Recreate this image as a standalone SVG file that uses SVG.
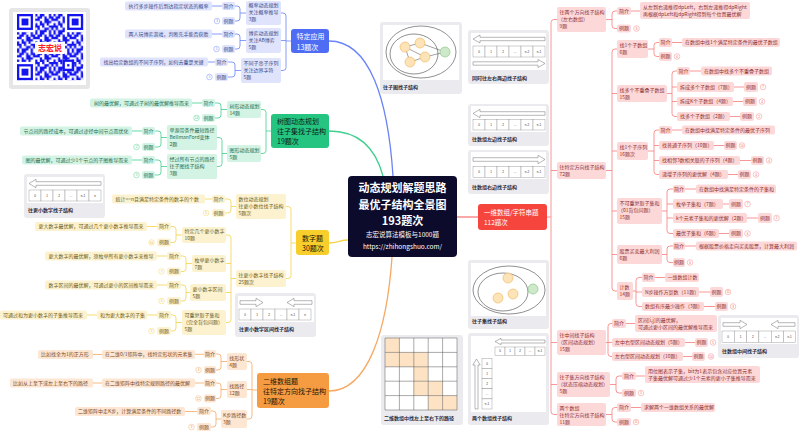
<svg xmlns="http://www.w3.org/2000/svg" width="800" height="433" viewBox="0 0 800 433">
<defs>
<style>
text{font-family:"Noto Sans CJK SC","Noto Sans","Liberation Sans",sans-serif;font-size:5px}
.c{fill:none;stroke-width:.8}
.w{stroke-width:1.3}
.l1{stroke:#6a83f6}.l2{stroke:#3fcf8e}.l3{stroke:#f5d24a}.l4{stroke:#f6a862}.l5{stroke:#f77b7b}
.b1{fill:#dfe4fc}.b2{fill:#d3f4e4}.b3{fill:#fdf2cf}.b4{fill:#fde6d2}.b5{fill:#fdd8d8}
.t1{fill:#3a4684}.t2{fill:#266a4b}.t3{fill:#6b5a17}.t4{fill:#7a491f}.t5{fill:#8e2f2f}
.m{text-anchor:middle}
.bd{fill:#fff;stroke-width:.45}
.bn{font-size:3px;text-anchor:middle;font-family:"Liberation Sans",sans-serif}
.n1{fill:#6a83f6}.n2{fill:#3fcf8e}.n3{fill:#d9ad18}.n4{fill:#f08a3a}.n5{fill:#f05a5a}
.card{fill:#ebebef}
.in{fill:#fff}
.ar{fill:#fff;stroke:#707070;stroke-width:.5}
.cell{fill:#fff;stroke:#8a8a8a;stroke-width:.4}
.ct{font-size:3px;fill:#333;text-anchor:middle;font-family:"Liberation Sans",sans-serif}
.cl{font-weight:bold;fill:#2b2b40}
.mt{font-size:7px}
.ol{fill:none;stroke:#444;stroke-width:.6}
.oc{fill:#fde3b8;stroke:#f0b455;stroke-width:.6}
.gc{fill:#cde9c9;stroke:#7cc27a;stroke-width:.6}
.qb{fill:#1414f0}
</style>
<pattern id="qr" width="8" height="8" patternUnits="userSpaceOnUse" patternTransform="translate(17,14) scale(2.28)">
<path class="qb" d="M0 0h1v1h-1z M2 0h2v1h-2z M6 0h1v1h-1z M1 1h2v1h-2z M4 1h1v1h-1z M6 1h2v1h-2z M0 2h2v1h-2z M4 2h2v1h-2z M7 2h1v1h-1z M2 3h1v1h-1z M4 3h3v1h-3z M0 4h1v1h-1z M2 4h2v1h-2z M5 4h1v1h-1z M0 5h2v1h-2z M3 5h1v1h-1z M6 5h2v1h-2z M1 6h1v1h-1z M4 6h2v1h-2z M7 6h1v1h-1z M0 7h1v1h-1z M2 7h3v1h-3z M6 7h1v1h-1z"/>
</pattern>
</defs>
<rect width="800" height="433" fill="#fff"/>

<g id="qrcode">
<rect x="9" y="8" width="81" height="81" rx="3" fill="#e6e6e6"/>
<rect x="13" y="12" width="73" height="73" fill="#fff"/>
<rect x="17" y="14" width="66.12" height="66.12" fill="url(#qr)"/>
<rect x="17" y="14" width="18.24" height="18.24" fill="#fff"/>
<rect x="64.88" y="14" width="18.24" height="18.24" fill="#fff"/>
<rect x="17" y="61.88" width="18.24" height="18.24" fill="#fff"/>
<rect class="qb" x="17" y="14" width="15.96" height="15.96"/><rect x="19.28" y="16.28" width="11.4" height="11.4" fill="#fff"/><rect class="qb" x="21.56" y="18.56" width="6.84" height="6.84"/>
<rect class="qb" x="67.16" y="14" width="15.96" height="15.96"/><rect x="69.44" y="16.28" width="11.4" height="11.4" fill="#fff"/><rect class="qb" x="71.72" y="18.56" width="6.84" height="6.84"/>
<rect class="qb" x="17" y="64.16" width="15.96" height="15.96"/><rect x="19.28" y="66.44" width="11.4" height="11.4" fill="#fff"/><rect class="qb" x="21.56" y="68.72" width="6.84" height="6.84"/>
<rect class="qb" x="62.6" y="59.6" width="11.4" height="11.4"/><rect x="64.88" y="61.88" width="6.84" height="6.84" fill="#fff"/><rect class="qb" x="67.16" y="64.16" width="2.28" height="2.28"/>
<rect x="35" y="42" width="30" height="12" rx="1" fill="#fff"/>
<text x="50" y="51.2" class="m" style="font-size:8px;font-weight:bold;fill:#ff2222">志宏说</text>
</g>

<g id="connectors">
<path class="c w l1" d="M329,41 C370,41 388,100 393,176"/>
<path class="c w l2" d="M329,131 C360,131 376,150 383,176"/>
<path class="c w l3" d="M329,243 C338,243 340,240 348,240"/>
<path class="c w l4" d="M329,391 C368,391 387,330 392,257"/>
<path class="c w l5" d="M457,217 H478"/>
<path class="c l1" d="M291,41 H286 M281,13 H283 Q286,13 286,16 V67.5 Q286,70.5 283,70.5 H281 M281,40.5 H286"/>
<path class="c l1" d="M246,13 H240 M235,6 H237 Q240,6 240,9 V18 Q240,21 237,21 H235 M212,6 H222"/>
<path class="c l1" d="M246,40.5 H240 M235,34 H237 Q240,34 240,37 V46 Q240,49 237,49 H235 M212,34 H222"/>
<path class="c l1" d="M241,70.5 H235 M228,62 H232 Q235,62 235,65 V74 Q235,77 232,77 H228 M208,62 H215"/>
<path class="c l2" d="M271,131 H266 M261,109.5 H263 Q266,109.5 266,112.5 V150.5 Q266,153.5 263,153.5 H261"/>
<path class="c l2" d="M227,109.5 H221 M215,103 H218 Q221,103 221,106 V115 Q221,118 218,118 H215 M192,103 H202"/>
<path class="c l2" d="M227,153.5 H222 M217,137.5 H219 Q222,137.5 222,140.5 V163.5 Q222,166.5 219,166.5 H217"/>
<path class="c l2" d="M167,137.5 H161 M155,131 H158 Q161,131 161,134 V144 Q161,147 158,147 H155 M132,131 H142"/>
<path class="c l2" d="M167,166.5 H161 M155,160 H158 Q161,160 161,163 V172 Q161,175 158,175 H155 M132,160 H142"/>
<path class="c l3" d="M296,243 H291 M286,206.5 H288 Q291,206.5 291,209.5 V275.5 Q291,278.5 288,278.5 H286"/>
<path class="c l3" d="M236,206.5 H231 M225,199 H228 Q231,199 231,202 V210 Q231,213 228,213 H225 M205,199 H212"/>
<path class="c l3" d="M236,278.5 H231 M226,235 H228 Q231,235 231,238 V319.5 Q231,322.5 228,322.5 H226 M226,263.5 H231 M226,292.5 H231"/>
<path class="c l3" d="M182,235 H176 M171,226.5 H173 Q176,226.5 176,229.5 V239.5 Q176,242.5 173,242.5 H171 M147,226.5 H157"/>
<path class="c l3" d="M192,263.5 H186 M181,256 H183 Q186,256 186,259 V268.5 Q186,271.5 183,271.5 H181 M157,256 H167"/>
<path class="c l3" d="M190,292.5 H186 M181,285 H183 Q186,285 186,288 V298 Q186,301 183,301 H181 M157,285 H167"/>
<path class="c l3" d="M182,322.5 H176 M171,315 H173 Q176,315 176,318 V328 Q176,331 173,331 H171 M147,315 H157 M87,315 H97"/>
<path class="c l4" d="M257,390 H252 M247,361.5 H249 Q252,361.5 252,364.5 V416 Q252,419 249,419 H247 M247,389.5 H252"/>
<path class="c l4" d="M227,361.5 H221 M216,354 H218 Q221,354 221,357 V367 Q221,370 218,370 H216 M195,354.3 H204 M93,354.5 H102"/>
<path class="c l4" d="M227,389.5 H221 M216,383 H218 Q221,383 221,386 V395.5 Q221,398.5 218,398.5 H216 M195,383 H204 M93,383 H102"/>
<path class="c l4" d="M221,419 H216 M211,411 H213 Q216,411 216,414 V424 Q216,427 213,427 H211 M185,411.5 H197"/>
<path class="c l5" d="M547,217 H551 M557,19.5 H554 Q551,19.5 551,22.5 V411.5 Q551,414.5 554,414.5 H557 M551,170.5 H557 M551,342.5 H557 M551,384.5 H557"/>
<path class="c l5" d="M606,19.5 H612 M617,11 H615 Q612,11 612,14 V25.5 Q612,28.5 615,28.5 H617 M631,11 H640"/>
<path class="c l5" d="M606,170.5 H612 M617,49 H615 Q612,49 612,52 V288 Q612,291 615,291 H617 M612,93.5 H617 M612,151 H617 M612,211 H617 M612,254.5 H617"/>
<path class="c l5" d="M648,49 H654 M659,42.5 H657 Q654,42.5 654,45.5 V53.5 Q654,56.5 657,56.5 H659 M672,42.5 H682"/>
<path class="c l5" d="M667,93.5 H672 M677,71 H675 Q672,71 672,74 V113.5 Q672,116.5 675,116.5 H677 M672,87 H677 M672,101.5 H677 M690,71 H701 M734,87 H744 M733,101.5 H743 M730,116.5 H740"/>
<path class="c l5" d="M648,151 H654 M659,130 H657 Q654,130 654,133 V171.5 Q654,174.5 657,174.5 H659 M654,145.5 H659 M654,160.5 H659 M672,130 H682 M714,145.5 H724 M740,160.5 H751 M728,174.5 H738"/>
<path class="c l5" d="M662,211 H667 M673,189 H670 Q667,189 667,192 V230.5 Q667,233.5 670,233.5 H673 M667,204 H673 M667,218 H673 M685,189 H696 M723,204 H729 M747,218 H758 M719,233.5 H729"/>
<path class="c l5" d="M662,254.5 H667 M673,246 H670 Q667,246 667,249 V259.5 Q667,262.5 670,262.5 H673 M685,246 H696"/>
<path class="c l5" d="M633,291 H636 M642,277.5 H639 Q636,277.5 636,280.5 V303.5 Q636,306.5 639,306.5 H642 M636,292 H642 M655,277.5 H665 M699,292 H710 M704,306.5 H715"/>
<path class="c l5" d="M606,342.5 H612 M612,323.5 H611 Q608,323.5 608,326.5 V353.5 Q608,356.5 611,356.5 H612 M626,323.5 H635 M685,342.5 H695 M683,356.5 H692"/>
<path class="c l5" d="M610,384.5 H616 M622,376 H619 Q616,376 616,379 V390 Q616,393 619,393 H622 M636,376 H645"/>
<path class="c l5" d="M606,414.5 H612 M617,407.5 H615 Q612,407.5 612,410.5 V419 Q612,422 615,422 H617 M631,407.5 H641"/>
</g>

<g id="center">
<rect x="348" y="176" width="109" height="81" rx="4" fill="#0d0b2c"/>
<text x="402.5" y="192" class="m" style="font-size:11px;font-weight:bold;fill:#fff">动态规划解题思路</text>
<text x="402.5" y="209" class="m" style="font-size:11px;font-weight:bold;fill:#fff">最优子结构全景图</text>
<text x="402.5" y="225" class="m" style="font-size:11px;font-weight:bold;fill:#fff">193题次</text>
<text x="402.5" y="237" class="m" style="font-size:6.5px;fill:#fff">志宏说算法模板与1000题</text>
<text x="402.5" y="249" class="m" style="font-size:6.5px;fill:#fff">https://zhihongshuo.com/</text>
</g>

<!-- Blue branch -->
<g id="n-special">
<rect x="291" y="29" width="38" height="24" rx="3" fill="#4e6cf4"/>
<text x="296.5" y="39" class="mt" fill="#fff">特定应用</text>
<text x="296.5" y="49.5" class="mt" fill="#fff">13题次</text>
</g>
<g id="n-prob">
<rect class="b1" x="246" y="1" width="35" height="24" rx="2"/>
<text class="t1" x="248.5" y="7.3">概率动态规划</text><text class="t1" x="248.5" y="14.3">关注概率推导</text><text class="t1" x="248.5" y="21.3">3题</text>
<rect class="b1" x="222" y="2" width="13" height="8" rx="2"/><text class="t1 m" x="228.5" y="7.8">简介</text>
<rect class="b1" x="222" y="17" width="13" height="8" rx="2"/><text class="t1 m" x="228.5" y="22.8">例题</text>
<circle class="bd l1" cx="217" cy="21" r="2.8"/><text class="bn n1" x="217" y="22.1">3</text>
<rect class="b1" x="125" y="1.5" width="87" height="9" rx="2"/><text class="t1" x="128.5" y="7.8">执行多步操作后到达指定状态的概率</text>
</g>
<g id="n-game">
<rect class="b1" x="246" y="28" width="35" height="25" rx="2"/>
<text class="t1" x="248.5" y="34.5">博弈动态规划</text><text class="t1" x="248.5" y="41.5">关注AB博弈</text><text class="t1" x="248.5" y="48.5">5题</text>
<rect class="b1" x="222" y="30" width="13" height="8" rx="2"/><text class="t1 m" x="228.5" y="35.8">简介</text>
<rect class="b1" x="222" y="45" width="13" height="8" rx="2"/><text class="t1 m" x="228.5" y="50.8">例题</text>
<circle class="bd l1" cx="216.5" cy="49" r="2.8"/><text class="bn n1" x="216.5" y="50.1">5</text>
<rect class="b1" x="125" y="29.5" width="87" height="9" rx="2"/><text class="t1" x="128.5" y="35.8">两人玩博弈游戏，判断先手能否获胜</text>
</g>
<g id="n-subseq">
<rect class="b1" x="241" y="58" width="40" height="25" rx="2"/>
<text class="t1" x="243.5" y="64.5">不同子串子序列</text><text class="t1" x="243.5" y="71.5">关注边界字符</text><text class="t1" x="243.5" y="78.5">5题</text>
<rect class="b1" x="215" y="58" width="13" height="8" rx="2"/><text class="t1 m" x="221.5" y="63.8">简介</text>
<rect class="b1" x="215" y="73" width="13" height="8" rx="2"/><text class="t1 m" x="221.5" y="78.8">例题</text>
<circle class="bd l1" cx="209.5" cy="77" r="2.8"/><text class="bn n1" x="209.5" y="78.1">5</text>
<rect class="b1" x="100" y="57.5" width="108" height="9" rx="2"/><text class="t1" x="103.5" y="63.8">找出给定数组的不同子序列，如何去重是关键</text>
</g>

<!-- Green branch -->
<g id="n-treegraph">
<rect x="271" y="114" width="58" height="34" rx="3" fill="#25c481"/>
<text x="277" y="123.5" class="mt" fill="#0e1a14">树图动态规划</text>
<text x="277" y="133.5" class="mt" fill="#0e1a14">往子集找子结构</text>
<text x="277" y="143.5" class="mt" fill="#0e1a14">19题次</text>
</g>
<g id="n-tree">
<rect class="b2" x="227" y="101" width="34" height="17" rx="2"/>
<text class="t2" x="229.5" y="107.8">树形动态规划</text><text class="t2" x="229.5" y="114.8">14题</text>
<rect class="b2" x="202" y="99" width="13" height="8" rx="2"/><text class="t2 m" x="208.5" y="104.8">简介</text>
<rect class="b2" x="202" y="114" width="13" height="8" rx="2"/><text class="t2 m" x="208.5" y="119.8">例题</text>
<circle class="bd l2" cx="196.5" cy="118" r="2.8"/><text class="bn n2" x="196.5" y="119.1">14</text>
<rect class="b2" x="90" y="98.5" width="102" height="9" rx="2"/><text class="t2" x="94" y="104.8">树的最优解，可通过子树的最优解推导而来</text>
</g>
<g id="n-graph">
<rect class="b2" x="227" y="145" width="34" height="17" rx="2"/>
<text class="t2" x="229.5" y="151.8">图形动态规划</text><text class="t2" x="229.5" y="158.8">5题</text>
</g>
<g id="n-bellman">
<rect class="b2" x="167" y="125" width="50" height="25" rx="2"/>
<text class="t2" x="169.5" y="131.5">单源带条件最短路径</text><text class="t2" x="169.5" y="138.5">BellmanFord变体</text><text class="t2" x="169.5" y="145.5">2题</text>
<rect class="b2" x="142" y="127" width="13" height="8" rx="2"/><text class="t2 m" x="148.5" y="132.8">简介</text>
<rect class="b2" x="142" y="143" width="13" height="8" rx="2"/><text class="t2 m" x="148.5" y="148.8">例题</text>
<circle class="bd l2" cx="136.5" cy="147" r="2.8"/><text class="bn n2" x="136.5" y="148.1">2</text>
<rect class="b2" x="20" y="126.5" width="112" height="9" rx="2"/><text class="t2" x="23.5" y="132.8">节点间的路径成本，可通过途径中间节点而优化</text>
</g>
<g id="n-allnodes">
<rect class="b2" x="167" y="154" width="50" height="25" rx="2"/>
<text class="t2" x="169.5" y="160.5">经过所有节点的路径</text><text class="t2" x="169.5" y="167.5">往子图找子结构</text><text class="t2" x="169.5" y="174.5">3题</text>
<rect class="b2" x="142" y="156" width="13" height="8" rx="2"/><text class="t2 m" x="148.5" y="161.8">简介</text>
<rect class="b2" x="142" y="171" width="13" height="8" rx="2"/><text class="t2 m" x="148.5" y="176.8">例题</text>
<circle class="bd l2" cx="136.5" cy="175" r="2.8"/><text class="bn n2" x="136.5" y="176.1">3</text>
<rect class="b2" x="22" y="155.5" width="110" height="9" rx="2"/><text class="t2" x="25.5" y="161.8">图的最优解，可通过少1个节点的子图推导而来</text>
</g>

<g id="card-smaller-number">
<rect class="card" x="24" y="174" width="81" height="44" rx="3"/>
<rect class="in" x="27" y="177" width="76" height="26"/>
<polygon class="ar" points="29,183.5 36,179.3 36,181.7 101,181.7 101,185.3 36,185.3 36,187.7"/>
<rect class="cell" x="29" y="190" width="12" height="11"/><rect class="cell" x="41" y="190" width="12" height="11"/><rect class="cell" x="53" y="190" width="12" height="11"/><rect class="cell" x="65" y="190" width="12" height="11"/><rect class="cell" x="77" y="190" width="12" height="11"/><rect class="cell" x="89" y="190" width="12" height="11"/>
<text class="ct" x="35" y="196.6">0</text><text class="ct" x="47" y="196.6">1</text><text class="ct" x="59" y="196.6">2</text><text class="ct" x="71" y="196.6">...</text><text class="ct" x="83" y="196.6">n-1</text><text class="ct" x="95" y="196.6">n</text>
<text class="cl" x="28" y="212">往更小数字找子结构</text>
</g>

<!-- Yellow branch -->
<g id="n-number">
<rect x="296" y="230" width="33" height="25" rx="3" fill="#f7ce2c"/>
<text x="302" y="240.5" class="mt" fill="#1a1500">数字题</text>
<text x="302" y="250.5" class="mt" fill="#1a1500">30题次</text>
</g>
<g id="n-digit">
<rect class="b3" x="236" y="194" width="50" height="25" rx="2"/>
<text class="t3" x="238.5" y="200.5">数位动态规划</text><text class="t3" x="238.5" y="207.5">往更小数位找子结构</text><text class="t3" x="238.5" y="214.5">5题次</text>
<rect class="b3" x="212" y="195" width="13" height="8" rx="2"/><text class="t3 m" x="218.5" y="200.8">简介</text>
<rect class="b3" x="212" y="209" width="13" height="8" rx="2"/><text class="t3 m" x="218.5" y="214.8">例题</text>
<circle class="bd l3" cx="206" cy="213" r="2.8"/><text class="bn n3" x="206" y="214.1">5</text>
<rect class="b3" x="112" y="194.5" width="93" height="9" rx="2"/><text class="t3" x="115.5" y="200.8">统计&lt;=n且满足特定条件的数字的个数</text>
</g>
<g id="n-smaller">
<rect class="b3" x="236" y="270" width="50" height="17" rx="2"/>
<text class="t3" x="238.5" y="276.8">往更小数字找子结构</text><text class="t3" x="238.5" y="283.8">25题次</text>
</g>
<g id="n-several">
<rect class="b3" x="182" y="227" width="44" height="16" rx="2"/>
<text class="t3" x="184.5" y="233.3">特定几个更小数字</text><text class="t3" x="184.5" y="240.3">10题</text>
<rect class="b3" x="157" y="222.5" width="14" height="8" rx="2"/><text class="t3 m" x="164" y="228.3">简介</text>
<rect class="b3" x="157" y="238.5" width="14" height="8" rx="2"/><text class="t3 m" x="164" y="244.3">例题</text>
<circle class="bd l3" cx="151.5" cy="242.5" r="2.8"/><text class="bn n3" x="151.5" y="243.6">10</text>
<rect class="b3" x="35" y="222" width="112" height="9" rx="2"/><text class="t3" x="38.5" y="228.3">更大数字最优解，可通过几个更小数字推导而来</text>
</g>
<g id="n-enum">
<rect class="b3" x="192" y="255" width="34" height="17" rx="2"/>
<text class="t3" x="194.5" y="261.8">枚举更小数字</text><text class="t3" x="194.5" y="268.8">7题</text>
<rect class="b3" x="167" y="252" width="14" height="8" rx="2"/><text class="t3 m" x="174" y="257.8">简介</text>
<rect class="b3" x="167" y="267.5" width="14" height="8" rx="2"/><text class="t3 m" x="174" y="273.3">例题</text>
<circle class="bd l3" cx="161.5" cy="271.5" r="2.8"/><text class="bn n3" x="161.5" y="272.6">7</text>
<rect class="b3" x="45" y="251.5" width="112" height="9" rx="2"/><text class="t3" x="48.5" y="257.8">更大数字的最优解，须枚举所有更小数字来推导</text>
</g>
<g id="n-interval">
<rect class="b3" x="190" y="284" width="36" height="17" rx="2"/>
<text class="t3" x="192.5" y="290.8">更小数字区间</text><text class="t3" x="192.5" y="297.8">5题</text>
<rect class="b3" x="167" y="281" width="14" height="8" rx="2"/><text class="t3 m" x="174" y="286.8">简介</text>
<rect class="b3" x="167" y="297" width="14" height="8" rx="2"/><text class="t3 m" x="174" y="302.8">例题</text>
<circle class="bd l3" cx="161.5" cy="301" r="2.8"/><text class="bn n3" x="161.5" y="302.1">5</text>
<rect class="b3" x="45" y="280.5" width="112" height="9" rx="2"/><text class="t3" x="48.5" y="286.8">数字区间的最优解，可通过更小的区间推导而来</text>
</g>
<g id="n-knapsack">
<rect class="b3" x="182" y="310" width="44" height="25" rx="2"/>
<text class="t3" x="184.5" y="316.5">可重复取子集和</text><text class="t3" x="183" y="323.5">（完全背包问题）</text><text class="t3" x="184.5" y="330.5">5题</text>
<rect class="b3" x="157" y="311" width="14" height="8" rx="2"/><text class="t3 m" x="164" y="316.8">简介</text>
<rect class="b3" x="157" y="327" width="14" height="8" rx="2"/><text class="t3 m" x="164" y="332.8">例题</text>
<circle class="bd l3" cx="151.5" cy="331" r="2.8"/><text class="bn n3" x="151.5" y="332.1">5</text>
<rect class="b3" x="97" y="310.5" width="50" height="9" rx="2"/><text class="t3" x="100" y="316.8">和为更大数字的子集</text>
<rect class="b3" x="0" y="310.5" width="87" height="9" rx="2"/><text class="t3" x="3" y="316.8">可通过和为更小数字的子集推导而来</text>
</g>

<g id="card-smaller-interval">
<rect class="card" x="235" y="293" width="81" height="44" rx="3"/>
<rect class="in" x="238" y="296" width="76" height="26"/>
<polygon class="ar" points="263,302.5 256,298.3 256,300.7 240,300.7 240,304.3 256,304.3 256,306.7"/>
<polygon class="ar" points="287,302.5 294,298.3 294,300.7 312,300.7 312,304.3 294,304.3 294,306.7"/>
<rect class="cell" x="239" y="309" width="12" height="11"/><rect class="cell" x="251" y="309" width="12" height="11"/><rect class="cell" x="263" y="309" width="12" height="11"/><rect class="cell" x="275" y="309" width="12" height="11"/><rect class="cell" x="287" y="309" width="12" height="11"/><rect class="cell" x="299" y="309" width="12" height="11"/>
<text class="ct" x="245" y="315.6">0</text><text class="ct" x="257" y="315.6">1</text><text class="ct" x="269" y="315.6">2</text><text class="ct" x="281" y="315.6">...</text><text class="ct" x="293" y="315.6">n-1</text><text class="ct" x="305" y="315.6">n</text>
<text class="cl" x="239" y="331">往更小数字区间找子结构</text>
</g>

<!-- Orange branch -->
<g id="n-2d">
<rect x="257" y="373" width="72" height="35" rx="3" fill="#f59c42"/>
<text x="263" y="383.5" class="mt" fill="#1f1206">二维数组题</text>
<text x="263" y="393.5" class="mt" fill="#1f1206">往特定方向找子结构</text>
<text x="263" y="403.5" class="mt" fill="#1f1206">19题次</text>
</g>
<g id="n-shape">
<rect class="b4" x="227" y="353" width="20" height="17" rx="2"/>
<text class="t4" x="229.2" y="359.8">找形状</text><text class="t4" x="229.2" y="366.8">4题</text>
<rect class="b4" x="204" y="350" width="12" height="8" rx="2"/><text class="t4 m" x="210" y="355.8">简介</text>
<rect class="b4" x="204" y="366" width="12" height="8" rx="2"/><text class="t4 m" x="210" y="371.8">例题</text>
<circle class="bd l4" cx="198.5" cy="370" r="2.8"/><text class="bn n4" x="198.5" y="371.1">4</text>
<rect class="b4" x="102" y="350" width="93" height="9" rx="2"/><text class="t4" x="105" y="356.3">在二维0/1矩阵中，找特定形状的元素集</text>
<rect class="b4" x="38" y="350" width="55" height="9" rx="2"/><text class="t4" x="41" y="356.3">比如找全为1的正方形</text>
</g>
<g id="n-path">
<rect class="b4" x="227" y="381" width="20" height="17" rx="2"/>
<text class="t4" x="229.2" y="387.8">找路径</text><text class="t4" x="229.2" y="394.8">12题</text>
<rect class="b4" x="204" y="379" width="12" height="8" rx="2"/><text class="t4 m" x="210" y="384.8">简介</text>
<rect class="b4" x="204" y="394.5" width="12" height="8" rx="2"/><text class="t4 m" x="210" y="400.3">例题</text>
<circle class="bd l4" cx="198.5" cy="398.5" r="2.8"/><text class="bn n4" x="198.5" y="399.6">12</text>
<rect class="b4" x="102" y="378.5" width="93" height="9" rx="2"/><text class="t4" x="105" y="384.8">在二维矩阵中找特定规则路径的最优解</text>
<rect class="b4" x="10" y="378.5" width="83" height="9" rx="2"/><text class="t4" x="13" y="384.8">比如从上至下或左上至右下的路径</text>
</g>
<g id="n-kstep">
<rect class="b4" x="221" y="410" width="26" height="18" rx="2"/>
<text class="t4" x="223" y="417.3">K步路径数</text><text class="t4" x="223" y="424.3">3题</text>
<rect class="b4" x="197" y="407" width="14" height="8" rx="2"/><text class="t4 m" x="204" y="412.8">简介</text>
<rect class="b4" x="197" y="423" width="14" height="8" rx="2"/><text class="t4 m" x="204" y="428.8">例题</text>
<circle class="bd l4" cx="191.5" cy="427" r="2.8"/><text class="bn n4" x="191.5" y="428.1">3</text>
<rect class="b4" x="75" y="407" width="110" height="9" rx="2"/><text class="t4" x="78" y="413.3">二维矩阵中走K步，计算满足条件的不同路径数</text>
</g>

<g id="card-grid">
<rect class="card" x="381" y="335" width="82" height="90" rx="3"/>
<rect class="in" x="385" y="338" width="72" height="72"/>
<g fill="#fde3c4">
<rect x="385" y="338" width="14.4" height="14.4"/>
<rect x="385" y="352.4" width="14.4" height="14.4"/><rect x="399.4" y="352.4" width="14.4" height="14.4"/><rect x="413.8" y="352.4" width="14.4" height="14.4"/>
<rect x="413.8" y="366.8" width="14.4" height="14.4"/>
<rect x="413.8" y="381.2" width="14.4" height="14.4"/><rect x="428.2" y="381.2" width="14.4" height="14.4"/>
<rect x="428.2" y="395.6" width="14.4" height="14.4"/><rect x="442.6" y="395.6" width="14.4" height="14.4"/>
</g>
<path fill="none" stroke="#555" stroke-width=".5" d="M385,338 H457 M385,352.4 H457 M385,366.8 H457 M385,381.2 H457 M385,395.6 H457 M385,410 H457 M385,338 V410 M399.4,338 V410 M413.8,338 V410 M428.2,338 V410 M442.6,338 V410 M457,338 V410"/>
<text class="cl" x="384" y="419.5">二维数组中找左上至右下的路径</text>
</g>

<!-- Cards near center -->
<g id="card-subgraph">
<rect class="card" x="380" y="22" width="82" height="72" rx="3"/>
<rect class="in" x="383" y="25" width="76" height="55"/>
<ellipse class="ol" cx="421" cy="52" rx="35" ry="26"/>
<ellipse class="ol" cx="414" cy="54" rx="24" ry="20"/>
<path stroke="#444" stroke-width=".5" fill="none" d="M405,47 L420,43 M405,47 L425,57 M420,43 L445,52 M425,57 L445,52 M410,62 L425,57 M405,47 L410,62"/>
<circle class="oc" cx="405" cy="47" r="5"/><circle class="oc" cx="420" cy="43" r="5"/><circle class="oc" cx="410" cy="62" r="5"/><circle class="oc" cx="425" cy="57" r="5"/>
<circle class="gc" cx="445" cy="52" r="5"/>
<text class="cl" x="383" y="89">往子图找子结构</text>
</g>
<g id="card-both">
<rect class="card" x="468" y="30" width="81" height="54" rx="3"/>
<rect class="in" x="471" y="33" width="75" height="37"/>
<polygon class="ar" points="473,39 480,35 480,37.3 545,37.3 545,40.7 480,40.7 480,43"/>
<rect class="cell" x="473" y="46" width="12" height="11"/><rect class="cell" x="485" y="46" width="12" height="11"/><rect class="cell" x="497" y="46" width="12" height="11"/><rect class="cell" x="509" y="46" width="12" height="11"/><rect class="cell" x="521" y="46" width="12" height="11"/><rect class="cell" x="533" y="46" width="12" height="11"/>
<text class="ct" x="479" y="52.6">0</text><text class="ct" x="491" y="52.6">1</text><text class="ct" x="503" y="52.6">2</text><text class="ct" x="515" y="52.6">...</text><text class="ct" x="527" y="52.6">n-2</text><text class="ct" x="539" y="52.6">n-1</text>
<polygon class="ar" points="545,63.5 538,59.5 538,61.8 473,61.8 473,65.2 538,65.2 538,67.5"/>
<text class="cl" x="472" y="79.5">同时往左右两边找子结构</text>
</g>
<g id="card-left">
<rect class="card" x="468" y="104" width="81" height="42" rx="3"/>
<rect class="in" x="471" y="106" width="75" height="26"/>
<polygon class="ar" points="473,113.5 480,109.3 480,111.7 545,111.7 545,115.3 480,115.3 480,117.7"/>
<rect class="cell" x="473" y="119.5" width="12" height="10.5"/><rect class="cell" x="485" y="119.5" width="12" height="10.5"/><rect class="cell" x="497" y="119.5" width="12" height="10.5"/><rect class="cell" x="509" y="119.5" width="12" height="10.5"/><rect class="cell" x="521" y="119.5" width="12" height="10.5"/><rect class="cell" x="533" y="119.5" width="12" height="10.5"/>
<text class="ct" x="479" y="125.8">0</text><text class="ct" x="491" y="125.8">1</text><text class="ct" x="503" y="125.8">2</text><text class="ct" x="515" y="125.8">...</text><text class="ct" x="527" y="125.8">n-2</text><text class="ct" x="539" y="125.8">n-1</text>
<text class="cl" x="472" y="141">往数组左边找子结构</text>
</g>
<g id="card-right">
<rect class="card" x="468" y="150" width="81" height="44" rx="3"/>
<rect class="in" x="471" y="152" width="75" height="27"/>
<polygon class="ar" points="545,159.5 538,155.3 538,157.7 473,157.7 473,161.3 538,161.3 538,163.7"/>
<rect class="cell" x="473" y="166.5" width="12" height="11"/><rect class="cell" x="485" y="166.5" width="12" height="11"/><rect class="cell" x="497" y="166.5" width="12" height="11"/><rect class="cell" x="509" y="166.5" width="12" height="11"/><rect class="cell" x="521" y="166.5" width="12" height="11"/><rect class="cell" x="533" y="166.5" width="12" height="11"/>
<text class="ct" x="479" y="173.1">0</text><text class="ct" x="491" y="173.1">1</text><text class="ct" x="503" y="173.1">2</text><text class="ct" x="515" y="173.1">...</text><text class="ct" x="527" y="173.1">n-2</text><text class="ct" x="539" y="173.1">n-1</text>
<text class="cl" x="472" y="188.5">往数组右边找子结构</text>
</g>
<g id="card-subset">
<rect class="card" x="468" y="260" width="81" height="69" rx="3"/>
<rect class="in" x="471" y="263" width="75" height="53"/>
<ellipse class="ol" cx="509" cy="290" rx="36" ry="24"/>
<ellipse class="ol" cx="503" cy="292" rx="25" ry="19"/>
<circle class="oc" cx="508" cy="278" r="5"/><circle class="oc" cx="498" cy="298" r="5"/><circle class="oc" cx="513" cy="294" r="5"/>
<circle class="gc" cx="533" cy="289" r="5"/>
<text class="cl" x="472" y="323">往子集找子结构</text>
</g>
<g id="card-two-arrays">
<rect class="card" x="468" y="333" width="81" height="92" rx="3"/>
<rect class="in" x="471" y="336" width="75" height="76"/>
<polygon class="ar" points="495,341.5 501,338.3 501,340 545,340 545,343 501,343 501,344.7"/>
<rect class="cell" x="495" y="347" width="10" height="8.5"/><rect class="cell" x="505" y="347" width="10" height="8.5"/><rect class="cell" x="515" y="347" width="10" height="8.5"/><rect class="cell" x="525" y="347" width="10" height="8.5"/><rect class="cell" x="535" y="347" width="10" height="8.5"/>
<text class="ct" x="500" y="352.3">0</text><text class="ct" x="510" y="352.3">1</text><text class="ct" x="520" y="352.3">2</text><text class="ct" x="530" y="352.3">...</text><text class="ct" x="540" y="352.3">n-1</text>
<polygon class="ar" points="476.5,359 480.2,365 478,365 478,409 475,409 475,365 472.8,365"/>
<rect class="cell" x="482" y="358.5" width="10" height="10.1"/><rect class="cell" x="482" y="368.6" width="10" height="10.1"/><rect class="cell" x="482" y="378.7" width="10" height="10.1"/><rect class="cell" x="482" y="388.8" width="10" height="10.1"/><rect class="cell" x="482" y="398.9" width="10" height="10.1"/>
<text class="ct" x="487" y="364.6">0</text><text class="ct" x="487" y="374.7">1</text><text class="ct" x="487" y="384.8">2</text><text class="ct" x="487" y="394.9">...</text><text class="ct" x="487" y="405">n-1</text>
<text class="cl" x="472" y="419.5">两个数组找子结构</text>
</g>

<!-- Red branch -->
<g id="n-1d">
<rect x="478" y="204" width="69" height="26" rx="3" fill="#f5453d"/>
<text x="484" y="214.5" style="font-size:6.5px" fill="#fff">一维数组/字符串题</text>
<text x="484" y="225" style="font-size:6.5px" fill="#fff">112题次</text>
</g>
<g id="n-twodir">
<rect class="b5" x="557" y="7" width="49" height="25" rx="2"/>
<text class="t5" x="559.5" y="13.5">往两个方向找子结构</text><text class="t5" x="558" y="20.5">（左右数组）</text><text class="t5" x="559.5" y="27.5">9题</text>
<rect class="b5" x="617" y="7" width="14" height="8" rx="2"/><text class="t5 m" x="624" y="12.8">简介</text>
<rect class="b5" x="617" y="24.5" width="14" height="8" rx="2"/><text class="t5 m" x="624" y="30.3">例题</text>
<circle class="bd l5" cx="636.5" cy="28.5" r="2.8"/><text class="bn n5" x="636.5" y="29.6">9</text>
<rect class="b5" x="640" y="2" width="110" height="17" rx="2"/>
<text class="t5" x="643" y="8.7">从左到右递推得dpLeft，右到左递推得dpRight</text>
<text class="t5" x="643" y="15.7">再根据dpLeft和dpRight得到每个位置最优解</text>
</g>
<g id="n-specdir">
<rect class="b5" x="557" y="162" width="49" height="17" rx="2"/>
<text class="t5" x="559.5" y="168.8">往特定方向找子结构</text><text class="t5" x="559.5" y="175.8">72题</text>
</g>
<g id="n-onesub">
<rect class="b5" x="617" y="40" width="31" height="18" rx="2"/>
<text class="t5" x="619.5" y="47.3">找1个子数组</text><text class="t5" x="619.5" y="54.3">6题</text>
<rect class="b5" x="659" y="38" width="13" height="9" rx="2"/><text class="t5 m" x="665.5" y="44.3">简介</text>
<rect class="b5" x="659" y="52" width="13" height="9" rx="2"/><text class="t5 m" x="665.5" y="58.3">例题</text>
<circle class="bd l5" cx="677" cy="56.5" r="2.8"/><text class="bn n5" x="677" y="57.6">6</text>
<rect class="b5" x="682" y="38" width="98" height="9" rx="2"/><text class="t5" x="685" y="44.3">在数组中找1个满足特定条件的最优子数组</text>
</g>
<g id="n-multisub">
<rect class="b5" x="617" y="85" width="50" height="17" rx="2"/>
<text class="t5" x="619.5" y="91.8">找多个不重叠子数组</text><text class="t5" x="619.5" y="98.8">15题</text>
<rect class="b5" x="677" y="67" width="13" height="8" rx="2"/><text class="t5 m" x="683.5" y="72.8">简介</text>
<rect class="b5" x="701" y="66.5" width="71" height="9" rx="2"/><text class="t5" x="704" y="72.8">在数组中找多个不重叠子数组</text>
<rect class="b5" x="677" y="82" width="57" height="10" rx="2"/><text class="t5" x="680" y="88.8">拆成多个子数组（7题）</text>
<rect class="b5" x="744" y="82" width="14" height="10" rx="2"/><text class="t5 m" x="751" y="88.8">例题</text>
<circle class="bd l5" cx="763" cy="87" r="2.8"/><text class="bn n5" x="763" y="88.1">7</text>
<rect class="b5" x="677" y="97" width="56" height="9" rx="2"/><text class="t5" x="680" y="103.3">拆成K个子数组（4题）</text>
<rect class="b5" x="743" y="97" width="14" height="9" rx="2"/><text class="t5 m" x="750" y="103.3">例题</text>
<circle class="bd l5" cx="762" cy="101.5" r="2.8"/><text class="bn n5" x="762" y="102.6">4</text>
<rect class="b5" x="677" y="112" width="53" height="9" rx="2"/><text class="t5" x="680" y="118.3">找多个子数组（2题）</text>
<rect class="b5" x="740" y="112" width="14" height="9" rx="2"/><text class="t5 m" x="747" y="118.3">例题</text>
<circle class="bd l5" cx="759" cy="116.5" r="2.8"/><text class="bn n5" x="759" y="117.6">2</text>
</g>
<g id="n-oneseq">
<rect class="b5" x="617" y="142" width="31" height="18" rx="2"/>
<text class="t5" x="619.5" y="149.3">找1个子序列</text><text class="t5" x="619.5" y="156.3">16题次</text>
<rect class="b5" x="659" y="126" width="13" height="8" rx="2"/><text class="t5 m" x="665.5" y="131.8">简介</text>
<rect class="b5" x="682" y="125.5" width="93" height="9" rx="2"/><text class="t5" x="685" y="131.8">在数组中找满足特定条件的最优子序列</text>
<rect class="b5" x="659" y="141" width="55" height="9" rx="2"/><text class="t5" x="662" y="147.3">找普通子序列（10题）</text>
<rect class="b5" x="724" y="141" width="13" height="9" rx="2"/><text class="t5 m" x="730.5" y="147.3">例题</text>
<circle class="bd l5" cx="742" cy="145.5" r="2.8"/><text class="bn n5" x="742" y="146.6">10</text>
<rect class="b5" x="659" y="156" width="81" height="9" rx="2"/><text class="t5" x="662" y="162.3">找相邻3数相关联的子序列（4题）</text>
<rect class="b5" x="751" y="156" width="13" height="9" rx="2"/><text class="t5 m" x="757.5" y="162.3">例题</text>
<circle class="bd l5" cx="769" cy="160.5" r="2.8"/><text class="bn n5" x="769" y="161.6">4</text>
<rect class="b5" x="659" y="170" width="69" height="9" rx="2"/><text class="t5" x="662" y="176.3">递增子序列的更优解（4题）</text>
<rect class="b5" x="738" y="170" width="13" height="9" rx="2"/><text class="t5 m" x="744.5" y="176.3">例题</text>
<circle class="bd l5" cx="756" cy="174.5" r="2.8"/><text class="bn n5" x="756" y="175.6">4</text>
</g>
<g id="n-01knap">
<rect class="b5" x="617" y="198" width="45" height="26" rx="2"/>
<text class="t5" x="619.5" y="204.5">不可重复取子集和</text><text class="t5" x="618" y="211.5">（01背包问题）</text><text class="t5" x="619.5" y="218.5">15题</text>
<rect class="b5" x="673" y="185" width="12" height="8" rx="2"/><text class="t5 m" x="679" y="190.8">简介</text>
<rect class="b5" x="696" y="184.5" width="80" height="9" rx="2"/><text class="t5" x="699" y="190.8">在数组中找满足特定条件的子集和</text>
<rect class="b5" x="673" y="199" width="50" height="10" rx="2"/><text class="t5" x="676" y="205.8">枚举子集和（7题）</text>
<rect class="b5" x="729" y="199" width="14" height="10" rx="2"/><text class="t5 m" x="736" y="205.8">例题</text>
<circle class="bd l5" cx="747.5" cy="204" r="2.8"/><text class="bn n5" x="747.5" y="205.1">7</text>
<rect class="b5" x="673" y="213" width="74" height="10" rx="2"/><text class="t5" x="676" y="219.8">k个元素子集和的更优解（2题）</text>
<rect class="b5" x="758" y="213" width="14" height="10" rx="2"/><text class="t5 m" x="765" y="219.8">例题</text>
<circle class="bd l5" cx="776.5" cy="218" r="2.8"/><text class="bn n5" x="776.5" y="219.1">2</text>
<rect class="b5" x="673" y="229" width="46" height="9" rx="2"/><text class="t5" x="676" y="235.3">最优子集和（6题）</text>
<rect class="b5" x="729" y="229" width="14" height="9" rx="2"/><text class="t5 m" x="736" y="235.3">例题</text>
<circle class="bd l5" cx="747.5" cy="233.5" r="2.8"/><text class="bn n5" x="747.5" y="234.6">6</text>
</g>
<g id="n-stock">
<rect class="b5" x="617" y="245" width="45" height="19" rx="2"/>
<text class="t5" x="619.5" y="252.8">股票买卖最大利润</text><text class="t5" x="619.5" y="259.8">6题</text>
<rect class="b5" x="673" y="242" width="12" height="8" rx="2"/><text class="t5 m" x="679" y="247.8">简介</text>
<rect class="b5" x="696" y="241.5" width="101" height="9" rx="2"/><text class="t5" x="699" y="247.8">根据股票价格走向买卖股票，计算最大利润</text>
<rect class="b5" x="673" y="258" width="12" height="9" rx="2"/><text class="t5 m" x="679" y="264.3">例题</text>
<circle class="bd l5" cx="690" cy="262.5" r="2.8"/><text class="bn n5" x="690" y="263.6">6</text>
</g>
<g id="n-count">
<rect class="b5" x="617" y="282" width="16" height="18" rx="2"/>
<text class="t5" x="619.5" y="289.3">计数</text><text class="t5" x="619.5" y="296.3">14题</text>
<rect class="b5" x="642" y="273" width="13" height="9" rx="2"/><text class="t5 m" x="648.5" y="279.3">简介</text>
<rect class="b5" x="665" y="273" width="34" height="9" rx="2"/><text class="t5" x="667.5" y="279.3">一维数组计数</text>
<rect class="b5" x="642" y="287" width="57" height="10" rx="2"/><text class="t5" x="645" y="293.8">N步操作方案数（11题）</text>
<rect class="b5" x="710" y="287" width="13" height="10" rx="2"/><text class="t5 m" x="716.5" y="293.8">例题</text>
<circle class="bd l5" cx="728" cy="292" r="2.8"/><text class="bn n5" x="728" y="293.1">11</text>
<rect class="b5" x="642" y="302" width="62" height="9" rx="2"/><text class="t5" x="645" y="308.3">数组有序最少操作（3题）</text>
<rect class="b5" x="715" y="302" width="13" height="9" rx="2"/><text class="t5 m" x="721.5" y="308.3">例题</text>
<circle class="bd l5" cx="733" cy="306.5" r="2.8"/><text class="bn n5" x="733" y="307.6">3</text>
</g>
<g id="n-middle">
<rect class="b5" x="557" y="330" width="49" height="25" rx="2"/>
<text class="t5" x="559.5" y="336.5">往中间找子结构</text><text class="t5" x="558" y="343.5">（区间动态规划）</text><text class="t5" x="559.5" y="350.5">15题</text>
<rect class="b5" x="612" y="319" width="14" height="9" rx="2"/><text class="t5 m" x="619" y="325.3">简介</text>
<rect class="b5" x="635" y="315" width="82" height="17" rx="2"/>
<text class="t5" x="638" y="321.8">区间[i,j]的最优解，</text><text class="t5" x="638" y="329">可通过更小区间的最优解推导而来</text>
<rect class="b5" x="612" y="338" width="73" height="9" rx="2"/><text class="t5" x="615" y="344.3">左中右型区间动态规划（5题）</text>
<rect class="b5" x="695" y="338" width="13" height="9" rx="2"/><text class="t5 m" x="701.5" y="344.3">例题</text>
<circle class="bd l5" cx="713" cy="342.5" r="2.8"/><text class="bn n5" x="713" y="343.6">5</text>
<rect class="b5" x="612" y="352" width="71" height="9" rx="2"/><text class="t5" x="615" y="358.3">左右型区间动态规划（10题）</text>
<rect class="b5" x="692" y="352" width="13" height="9" rx="2"/><text class="t5 m" x="698.5" y="358.3">例题</text>
<circle class="bd l5" cx="711" cy="356.5" r="2.8"/><text class="bn n5" x="711" y="357.6">10</text>
</g>
<g id="card-middle">
<rect class="card" x="718" y="315" width="81" height="43" rx="3"/>
<rect class="in" x="721" y="318" width="76" height="26"/>
<polygon class="ar" points="747,324.5 740,320.3 740,322.7 723,322.7 723,326.3 740,326.3 740,328.7"/>
<polygon class="ar" points="771,324.5 778,320.3 778,322.7 795,322.7 795,326.3 778,326.3 778,328.7"/>
<rect class="cell" x="722" y="331" width="12.3" height="11.5"/><rect class="cell" x="734.3" y="331" width="12.3" height="11.5"/><rect class="cell" x="746.6" y="331" width="12.3" height="11.5"/><rect class="cell" x="758.9" y="331" width="12.3" height="11.5"/><rect class="cell" x="771.2" y="331" width="12.3" height="11.5"/><rect class="cell" x="783.5" y="331" width="12.3" height="11.5"/>
<text class="ct" x="728.2" y="337.8">0</text><text class="ct" x="740.5" y="337.8">1</text><text class="ct" x="752.8" y="337.8">2</text><text class="ct" x="765" y="337.8">...</text><text class="ct" x="777.3" y="337.8">n-2</text><text class="ct" x="789.6" y="337.8">n-1</text>
<text class="cl" x="722" y="352.5">往数组中间找子结构</text>
</g>
<g id="n-bitmask">
<rect class="b5" x="557" y="372" width="53" height="25" rx="2"/>
<text class="t5" x="559.5" y="378.5">往子集方向找子结构</text><text class="t5" x="558" y="385.5">（状态压缩动态规划）</text><text class="t5" x="559.5" y="392.5">5题</text>
<rect class="b5" x="622" y="372" width="14" height="8" rx="2"/><text class="t5 m" x="629" y="377.8">简介</text>
<rect class="b5" x="622" y="389" width="14" height="8" rx="2"/><text class="t5 m" x="629" y="394.8">例题</text>
<circle class="bd l5" cx="641" cy="393" r="2.8"/><text class="bn n5" x="641" y="394.1">5</text>
<rect class="b5" x="645" y="366" width="115" height="17" rx="2"/>
<text class="t5" x="648" y="372.7">用位图表示子集，bit为1表示包含对应位置元素</text>
<text class="t5" x="648" y="379.9">子集最优解可通过少1个元素的更小子集推导而来</text>
</g>
<g id="n-twoarrays">
<rect class="b5" x="557" y="403" width="49" height="23" rx="2"/>
<text class="t5" x="559.5" y="409.5">两个数组</text><text class="t5" x="559.5" y="416.5">往特定方向找子结构</text><text class="t5" x="559.5" y="423.5">11题</text>
<rect class="b5" x="617" y="403" width="14" height="9" rx="2"/><text class="t5 m" x="624" y="409.3">简介</text>
<rect class="b5" x="641" y="403" width="74" height="9" rx="2"/><text class="t5" x="644" y="409.3">求解两个一维数组关系的最优解</text>
<rect class="b5" x="617" y="418" width="14" height="8" rx="2"/><text class="t5 m" x="624" y="423.8">例题</text>
<circle class="bd l5" cx="636" cy="422" r="2.8"/><text class="bn n5" x="636" y="423.1">11</text>
</g>
</svg>
